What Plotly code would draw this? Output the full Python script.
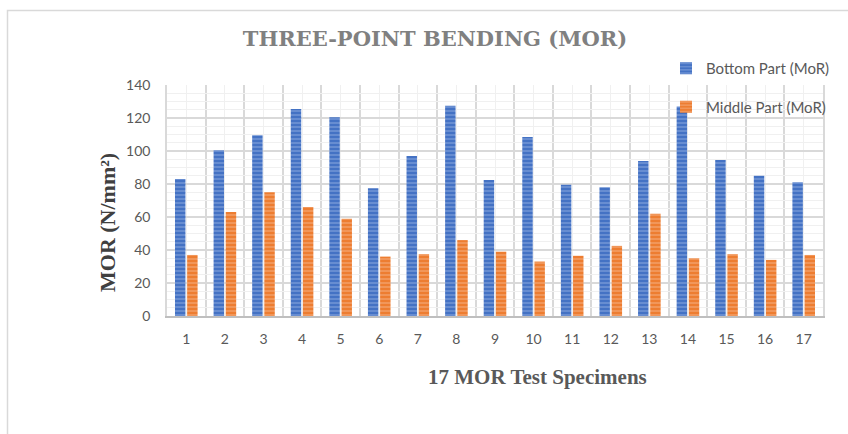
import plotly.graph_objects as go

specimens = list(range(1, 18))
bottom_mor = [83, 100.5, 109.5, 125.5, 120.5, 77.5, 97, 127.5, 82.5, 108.5, 79.5, 78, 94, 127, 94.5, 85, 81]
middle_mor = [37, 63, 75, 66, 59, 36, 37.5, 46, 39, 33, 36.5, 42.5, 62, 35, 37.5, 34, 37]
series_names = ["Bottom Part (MoR)", "Middle Part (MoR)"]

W, H = 848, 434
L, R, T, B = 167, 25, 85, 118
pw, ph = W - L - R, H - T - B

def px_x(p):
    return (p - L) / pw

def px_y(p):
    return (H - B - p) / ph

fig = go.Figure()
fig.add_trace(go.Bar(
    x=specimens, y=bottom_mor, name=series_names[0], legendgroup="a",
    marker=dict(color="#4472C4", line=dict(width=0),
                pattern=dict(shape="-", fgcolor="#93aee0", bgcolor="#4472C4", size=4, solidity=0.45)),
))
fig.add_trace(go.Bar(
    x=specimens, y=middle_mor, name=series_names[1], legendgroup="b",
    marker=dict(color="#ED7D31", line=dict(width=0),
                pattern=dict(shape="-", fgcolor="#f6b58a", bgcolor="#ED7D31", size=4, solidity=0.45)),
))

tick_font = dict(family="Lato, Open Sans, sans-serif", size=14, color="#595959")

fig.update_layout(
    width=W, height=H,
    margin=dict(l=L, r=R, t=T, b=B),
    paper_bgcolor="white", plot_bgcolor="white",
    barmode="group", bargap=0.37, bargroupgap=0.14,
    showlegend=True,
    legend=dict(x=px_x(666), y=px_y(52), xanchor="left", yanchor="top",
                orientation="v", tracegroupgap=16,
                font=dict(family="Lato, Open Sans, sans-serif", size=15, color="#595959"),
                bgcolor="rgba(0,0,0,0)"),
    title=dict(text="THREE-POINT BENDING (MOR)", x=435 / W, xanchor="center",
               y=1 - 39 / H, yanchor="middle",
               font=dict(family="DejaVu Serif, Liberation Serif, serif", size=21, color="#808080", weight="bold")),
    xaxis=dict(range=[0.5, 17.5], tick0=1, dtick=1, showgrid=True, gridcolor="#f0f0f0", gridwidth=1,
               minor=dict(tick0=0.5, dtick=1, showgrid=True, gridcolor="#d9d9d9", gridwidth=1.5),
               showline=True, linecolor="#bfbfbf", linewidth=2, ticks="",
               tickfont=tick_font, ticklabelstandoff=9, zeroline=False, fixedrange=True),
    yaxis=dict(range=[0, 140], dtick=20, showgrid=True, gridcolor="#d9d9d9", gridwidth=1.5,
               minor=dict(dtick=5, showgrid=True, gridcolor="#f0f0f0", gridwidth=1),
               showline=True, mirror=True, linecolor="#d9d9d9", linewidth=1.5, ticks="",
               tickfont=tick_font, ticklabelstandoff=12, zeroline=False, fixedrange=True),
    annotations=[
        dict(text="17 MOR Test Specimens", xref="paper", yref="paper", x=px_x(537), y=px_y(377),
             xanchor="center", yanchor="middle", showarrow=False,
             font=dict(family="Liberation Serif, Times New Roman, serif", size=21, color="#595959", weight="bold")),
        dict(text="MOR (N/mm²)", xref="paper", yref="paper", x=px_x(107), y=px_y(223),
             xanchor="center", yanchor="middle", showarrow=False, textangle=-90,
             font=dict(family="Liberation Serif, Times New Roman, serif", size=22, color="#404040", weight="bold")),
    ],
    shapes=[
        dict(type="rect", xref="paper", yref="paper", x0=px_x(7.5), x1=px_x(860), y0=px_y(450), y1=px_y(10.5),
             line=dict(color="#d9d9d9", width=1.5), fillcolor="rgba(0,0,0,0)", layer="below"),
    ],
)

fig.write_html("out.html")
